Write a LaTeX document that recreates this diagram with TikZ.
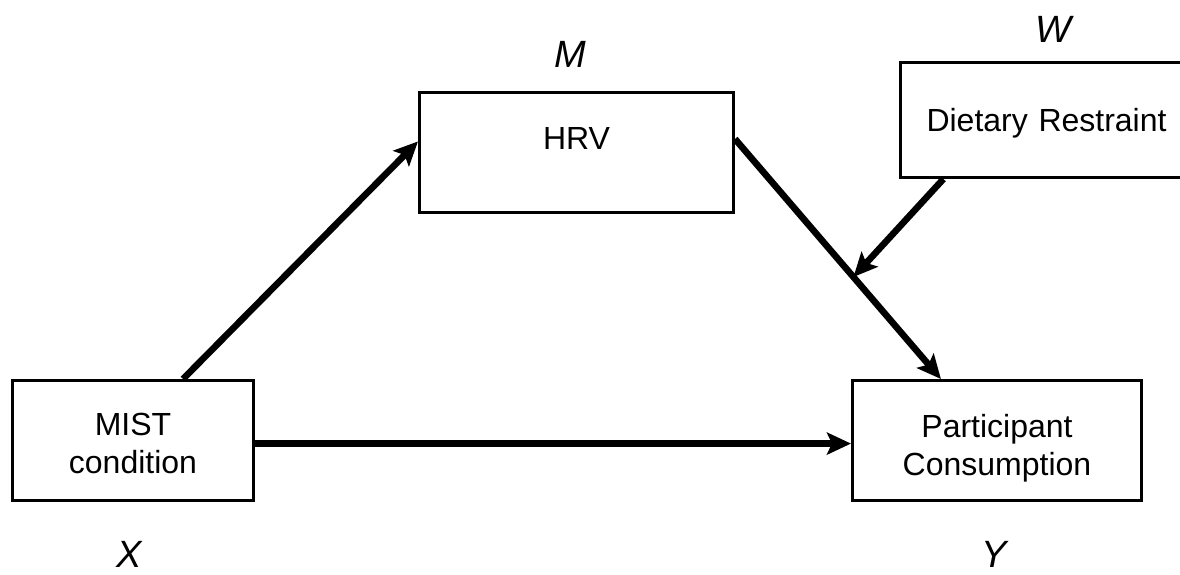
\documentclass[tikz,border=0pt]{standalone}
\usepackage{fontspec}
\setmainfont{Liberation Sans}
\usetikzlibrary{arrows.meta,calc}
\begin{document}
\begin{tikzpicture}[x=0.5pt,y=-0.5pt,
  box/.style={draw, line width=1.5pt, rectangle, inner sep=0pt, anchor=north west,
    align=center, font=\fontsize{16}{18.75}\selectfont},
  conn/.style={line width=3.3pt, -{Stealth[length=12pt,width=11pt,inset=2.5pt]}},
  var/.style={font=\fontsize{19}{22}\selectfont\itshape, anchor=base, inner sep=0pt}]
\useasboundingbox (0,0) rectangle (1180,574);
\node[box, text width=120.5pt, text height=27.5pt, text depth=32.5pt] (mist) at (11,379) {MIST\\condition};
\node[box, text width=157pt, text height=28.5pt, text depth=31.5pt] (hrv) at (418,91) {HRV};
\node[box, align=left, inner xsep=13pt, text width=131pt, text height=34.5pt, text depth=23pt] (diet) at (899,61) {Dietary Restraint};
\node[box, text width=144.5pt, text height=28.5pt, text depth=31.5pt] (part) at (851,379) {Participant\\Consumption};
\node[var] (m) at (570,67) {M};
\node[var] (w) at (1053,42) {W};
\node[var] (x) at (129,567) {X};
\node[var] (y) at (994,567) {Y};
\coordinate (a1) at ($(mist.north west)!0.705!(mist.north east)$);
\coordinate (a2) at ($(hrv.north west)!0.41!(hrv.south west)$);
\coordinate (b1) at ($(hrv.north east)!0.39!(hrv.south east)$);
\coordinate (b2) at ($(part.north west)!0.308!(part.north east)$);
\coordinate (c1) at ($(diet.south west)!0.14!(diet.south east)$);
\coordinate (c2) at ($(b1)!0.575!(b2)$);
\coordinate (d1) at ($(mist.north east)!0.525!(mist.south east)$);
\draw[conn] (a1) -- (a2);
\draw[conn] (b1) -- (b2);
\draw[conn] (c1) -- (c2);
\draw[conn] (d1) -- (d1 -| part.west);
\end{tikzpicture}
\end{document}
